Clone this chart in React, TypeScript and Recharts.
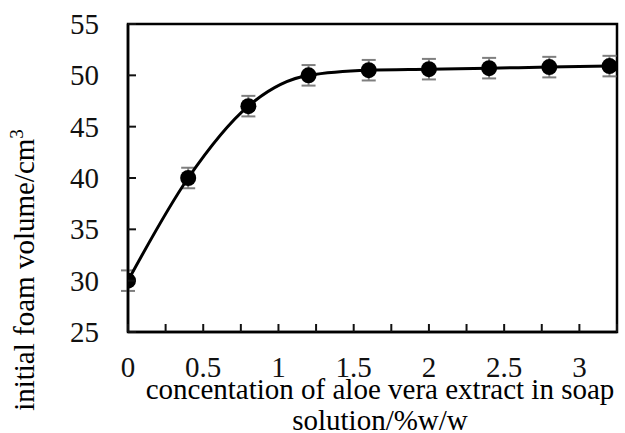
import React from 'react';
import { LineChart, Line, XAxis, YAxis, ErrorBar, ReferenceArea } from 'recharts';

// aloe vera extract concentration (% w/w)
const concentration = [0, 0.4, 0.8, 1.2, 1.6, 2.0, 2.4, 2.8, 3.2];
// initial foam volume (cm3)
const foamVolume = [30, 40, 47, 50, 50.5, 50.6, 50.7, 50.8, 50.9];
const foamError = [1, 1, 1, 1, 1, 1, 1, 1, 1];

const xTicks = [0, 0.25, 0.5, 0.75, 1, 1.25, 1.5, 1.75, 2, 2.25, 2.5, 2.75, 3, 3.25];
const yTicks = [25, 30, 35, 40, 45, 50, 55];

const FONT = 'Liberation Serif';
const TICK_LEN = 8;
const X_AXIS_Y = 332;
const Y_AXIS_X = 128;

const chartData = concentration.map((x, i) => ({
  x,
  volume: foamVolume[i],
  err: foamError[i],
}));

const formatX = (v: number) => (Math.round(v * 4) % 2 === 0 ? String(v) : '');

// inward tick mark + label below the axis
const XTick = (props: any) => {
  const { x, payload } = props;
  const label = formatX(payload.value);
  return (
    <g>
      <line x1={x} y1={X_AXIS_Y} x2={x} y2={X_AXIS_Y - TICK_LEN} stroke="#111" strokeWidth={2} />
      {label && (
        <text x={x} y={X_AXIS_Y + 45} textAnchor="middle" style={{ fontSize: 29, fontFamily: FONT }} fill="#111">
          {label}
        </text>
      )}
    </g>
  );
};

const YTick = (props: any) => {
  const { y, payload } = props;
  return (
    <g>
      <line x1={Y_AXIS_X} y1={y} x2={Y_AXIS_X + TICK_LEN} y2={y} stroke="#111" strokeWidth={2} />
      <text x={Y_AXIS_X - 29} y={y + 10} textAnchor="end" style={{ fontSize: 29, fontFamily: FONT }} fill="#111">
        {payload.value}
      </text>
    </g>
  );
};

export default function App() {
  return (
    <div style={{ position: 'absolute', left: 0, top: 0, width: 625, height: 433, background: '#fff' }}>
      <LineChart width={625} height={433} data={chartData} margin={{ top: 24, right: 8, left: 0, bottom: 0 }}>
        <XAxis
          dataKey="x"
          type="number"
          domain={[0, 3.25]}
          ticks={xTicks}
          interval={0}
          height={101}
          tickSize={0}
          tickLine={false}
          axisLine={{ stroke: '#000', strokeWidth: 2.5 }}
          tick={XTick}
          allowDataOverflow
        />
        <YAxis
          domain={[25, 55]}
          ticks={yTicks}
          width={128}
          tickSize={0}
          tickLine={false}
          interval={0}
          axisLine={{ stroke: '#000', strokeWidth: 2.5 }}
          tick={YTick}
          allowDataOverflow
        />
        <ReferenceArea x1={0} x2={3.25} y1={25} y2={55} fill="none" stroke="#000" strokeWidth={2.5} />
        <Line
          type="monotone"
          dataKey="volume"
          stroke="#000"
          strokeWidth={3}
          dot={{ r: 8, fill: '#000', stroke: '#000', strokeWidth: 0 }}
          isAnimationActive={false}
        >
          <ErrorBar dataKey="err" direction="y" width={7} stroke="#7f7f7f" strokeWidth={2} />
        </Line>
      </LineChart>
      <div style={{ position: 'absolute', left: 380, top: 374, transform: 'translateX(-50%)', whiteSpace: 'nowrap', fontSize: 29, lineHeight: '31px', textAlign: 'center', color: '#000', fontFamily: FONT }}>
        concentation of aloe vera extract in soap
        <br />
        solution/%w/w
      </div>
      <div style={{ position: 'absolute', left: 24, top: 270, transform: 'translate(-50%, -50%) rotate(-90deg)', whiteSpace: 'nowrap', fontSize: 29, lineHeight: '31px', color: '#000', fontFamily: FONT }}>
        initial foam volume/cm<sup style={{ fontSize: 19, lineHeight: 0 }}>3</sup>
      </div>
    </div>
  );
}
